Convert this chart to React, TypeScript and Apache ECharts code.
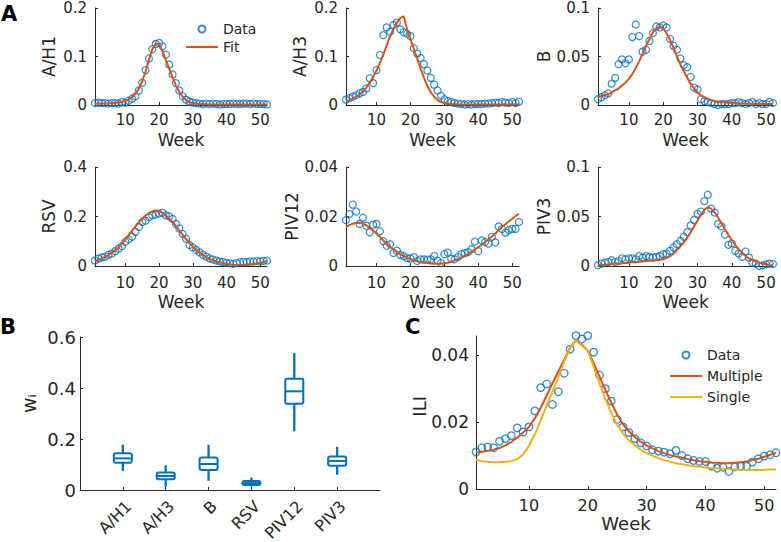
import React, { useEffect, useRef } from "react";
import * as echarts from "echarts";

// ---------- data ----------
const weeks = [1,2,3,4,5,6,7,8,9,10,11,12,13,14,15,16,17,18,19,20,21,22,23,24,25,26,27,28,29,30,31,32,33,34,35,36,37,38,39,40,41,42,43,44,45,46,47,48,49,50,51,52];

const ah1Data = [0.004,0.005,0.004,0.004,0.003,0.004,0.004,0.003,0.006,0.005, 0.009,0.013,0.018,0.030,0.046,0.072,0.096,0.115,0.126,0.128, 0.121,0.104,0.083,0.063,0.045,0.030,0.018,0.011,0.007,0.005, 0.004,0.003,0.002,0.003,0.002,0.003,0.002,0.001,0.002,0.002, 0.002,0.003,0.002,0.002,0.003,0.003,0.002,0.003,0.002,0.002, 0.002,0.001];
const ah1Fit = [0.003,0.003,0.003,0.003,0.003,0.004,0.004,0.005,0.006,0.008, 0.011,0.016,0.023,0.034,0.049,0.069,0.093,0.115,0.126,0.127, 0.111,0.093,0.075,0.057,0.040,0.027,0.017,0.010,0.006,0.004, 0.003,0.002,0.002,0.001,0.001,0.001,0.001,0.001,0.001,0.001, 0.001,0.001,0.001,0.001,0.001,0.001,0.001,0.001,0.001,0.001, 0.001,0.001];

const ah3Data = [0.011,0.014,0.017,0.020,0.024,0.027,0.034,0.055,0.045,0.072, 0.103,0.144,0.160,0.151,0.165,0.170,0.156,0.150,0.147,0.142, 0.117,0.106,0.097,0.084,0.071,0.056,0.042,0.030,0.019,0.012, 0.008,0.006,0.004,0.003,0.002,0.001,0.002,0.001,0.002,0.002, 0.002,0.003,0.003,0.004,0.005,0.004,0.006,0.005,0.004,0.006, 0.004,0.007];
const ah3Fit = [0.008,0.010,0.013,0.017,0.022,0.028,0.036,0.046,0.058,0.071, 0.087,0.104,0.123,0.142,0.157,0.170,0.179,0.183,0.156,0.136, 0.116,0.095,0.075,0.056,0.039,0.026,0.017,0.010,0.006,0.004, 0.003,0.002,0.002,0.001,0.001,0.001,0.001,0.001,0.001,0.001, 0.001,0.001,0.001,0.001,0.001,0.001,0.001,0.001,0.001,0.001, 0.001,0.001];

const bData = [0.006,0.008,0.010,0.012,0.022,0.028,0.042,0.047,0.043,0.047, 0.070,0.083,0.071,0.055,0.057,0.066,0.074,0.081,0.080,0.082, 0.080,0.068,0.061,0.057,0.048,0.041,0.039,0.029,0.018,0.016, 0.006,0.004,0.003,0.002,0.001,0.000,0.001,0.001,0.001,0.002, 0.002,0.003,0.002,0.001,0.002,0.003,0.001,0.002,0.001,0.001, 0.003,0.002];
const bFit = [0.008,0.009,0.010,0.011,0.013,0.015,0.017,0.020,0.023,0.027, 0.032,0.038,0.045,0.053,0.061,0.068,0.075,0.079,0.081,0.079, 0.074,0.067,0.059,0.050,0.042,0.035,0.028,0.022,0.017,0.013, 0.010,0.008,0.006,0.005,0.004,0.0035,0.003,0.0027,0.0024,0.0022, 0.002,0.0018,0.0016,0.0015,0.0014,0.0013,0.0012,0.0011,0.001,0.001, 0.001,0.001];

const rsvData = [0.022,0.030,0.035,0.038,0.045,0.050,0.060,0.070,0.080,0.098, 0.108,0.118,0.138,0.158,0.178,0.183,0.198,0.205,0.208,0.212, 0.215,0.205,0.200,0.190,0.170,0.152,0.130,0.110,0.085,0.075, 0.065,0.055,0.045,0.038,0.031,0.026,0.022,0.018,0.016,0.013, 0.011,0.009,0.012,0.015,0.017,0.016,0.019,0.018,0.020,0.019, 0.021,0.022];
const rsvFit = [0.020,0.025,0.031,0.038,0.045,0.054,0.064,0.075,0.091,0.108, 0.125,0.143,0.160,0.177,0.192,0.204,0.214,0.221,0.224,0.222, 0.215,0.204,0.191,0.177,0.160,0.143,0.126,0.109,0.093,0.078, 0.065,0.054,0.045,0.037,0.029,0.023,0.018,0.015,0.012,0.0095, 0.007,0.0055,0.0045,0.004,0.0042,0.005,0.0062,0.008,0.010,0.013, 0.016,0.020];

const piv12Data = [0.0185,0.021,0.0248,0.022,0.017,0.0195,0.0163,0.0136,0.0167,0.017, 0.014,0.010,0.0082,0.0088,0.0053,0.0062,0.0045,0.004,0.0032,0.003, 0.0036,0.002,0.0027,0.0027,0.0026,0.0027,0.004,0.0022,0.0012,0.0048, 0.0054,0.003,0.0027,0.0036,0.0048,0.0052,0.0056,0.0068,0.0098,0.006, 0.0103,0.0097,0.009,0.0118,0.0095,0.016,0.015,0.0135,0.0145,0.015, 0.015,0.0178];
const piv12Fit = [0.0158,0.0165,0.0171,0.0174,0.0175,0.0171,0.0164,0.0155,0.0144,0.0131, 0.0117,0.0103,0.0090,0.0078,0.0067,0.0057,0.0048,0.0041,0.0034,0.0028, 0.0023,0.0019,0.0016,0.0013,0.0012,0.0010,0.0009,0.0009,0.0009,0.0011, 0.0013,0.0017,0.0022,0.0028,0.0034,0.0041,0.0048,0.0057,0.0067,0.0076, 0.0086,0.0097,0.0108,0.0119,0.0131,0.0144,0.0158,0.0169,0.0180,0.0191, 0.0202,0.0211];

const piv3Data = [0.0007,0.0024,0.0034,0.004,0.0058,0.004,0.005,0.0078,0.0068,0.0078, 0.0078,0.0068,0.010,0.0085,0.010,0.0092,0.0085,0.0092,0.010,0.012, 0.0126,0.0153,0.0187,0.022,0.0255,0.0296,0.034,0.041,0.0466,0.0527, 0.055,0.0656,0.072,0.058,0.054,0.0425,0.040,0.0316,0.0214,0.0228, 0.0153,0.0126,0.0092,0.0146,0.0085,0.0034,0.0024,0.0,0.0007,0.0017, 0.0024,0.002];
const piv3Fit = [0.0007,0.0010,0.0013,0.0016,0.0019,0.0022,0.0025,0.0028,0.0031,0.0034, 0.0037,0.0040,0.0043,0.0046,0.0050,0.0053,0.0056,0.0059,0.0062,0.0068, 0.0082,0.0100,0.0125,0.0160,0.0198,0.0238,0.0285,0.0340,0.0400,0.0460, 0.0515,0.0568,0.0595,0.0580,0.0540,0.0490,0.0430,0.0370,0.0312,0.0260, 0.0212,0.0170,0.0133,0.0100,0.0076,0.0058,0.0045,0.0034,0.0026,0.0017, 0.0011,0.0007];

const boxCats = ["A/H1", "A/H3", "B", "RSV", "PIV12", "PIV3"];
const boxMin = [0.075, 0.013, 0.036, 0.013, 0.230, 0.060];
const boxQ1 = [0.107, 0.042, 0.078, 0.020, 0.338, 0.095];
const boxMedian = [0.124, 0.055, 0.102, 0.027, 0.387, 0.114];
const boxQ3 = [0.144, 0.069, 0.127, 0.035, 0.436, 0.131];
const boxMax = [0.178, 0.097, 0.178, 0.049, 0.537, 0.169];

const iliData = [0.0110,0.0123,0.0125,0.0123,0.0142,0.0150,0.0159,0.0182,0.0170,0.0185, 0.0233,0.0302,0.0313,0.0252,0.0290,0.0345,0.0417,0.0457,0.0447,0.0457, 0.0408,0.0339,0.0299,0.0262,0.0207,0.0185,0.0168,0.0150,0.0138,0.0128, 0.0117,0.0113,0.0110,0.0105,0.0115,0.0100,0.0090,0.0085,0.0082,0.0082, 0.0068,0.0062,0.0065,0.0052,0.0066,0.0068,0.0068,0.0080,0.0090,0.0098, 0.0102,0.0108];
const iliMultiple = [0.0108,0.0111,0.0114,0.0117,0.0122,0.0130,0.0140,0.0153,0.0168,0.0185, 0.0210,0.0242,0.0278,0.0315,0.0350,0.0385,0.0422,0.0443,0.0430,0.0413, 0.0375,0.0335,0.0295,0.0257,0.0222,0.0193,0.0172,0.0155,0.0141,0.0130, 0.0121,0.0113,0.0107,0.0101,0.0097,0.0093,0.0089,0.0086,0.0083,0.0081, 0.0079,0.0078,0.0077,0.0077,0.0078,0.0080,0.0082,0.0086,0.0090,0.0096, 0.0102,0.0108];
const iliSingle = [0.0087,0.0083,0.0081,0.0080,0.0080,0.0081,0.0083,0.0089,0.0103,0.0128, 0.0163,0.0205,0.0248,0.0290,0.0335,0.0380,0.0420,0.0443,0.0428,0.0412, 0.0365,0.0315,0.0268,0.0227,0.0192,0.0165,0.0145,0.0130,0.0117,0.0107, 0.0099,0.0092,0.0086,0.0081,0.0077,0.0074,0.0071,0.0068,0.0066,0.0064, 0.0062,0.0061,0.0060,0.0059,0.0058,0.0058,0.0057,0.0057,0.0057,0.0057, 0.0058,0.0058];

const weekTicks = [10, 20, 30, 40, 50];

// ---------- style ----------
const AX = "#262626";
const BLUE = "#0072BD";
const ORANGE = "#D95319";
const YELLOW = "#EDB120";
const FONT = "DejaVu Sans";

const panels = [
  { name: "A/H1", data: ah1Data, fit: ah1Fit, max: 0.2, interval: 0.1 },
  { name: "A/H3", data: ah3Data, fit: ah3Fit, max: 0.2, interval: 0.1 },
  { name: "B", data: bData, fit: bFit, max: 0.1, interval: 0.05 },
  { name: "RSV", data: rsvData, fit: rsvFit, max: 0.4, interval: 0.2 },
  { name: "PIV12", data: piv12Data, fit: piv12Fit, max: 0.04, interval: 0.02 },
  { name: "PIV3", data: piv3Data, fit: piv3Fit, max: 0.1, interval: 0.05 },
];

const layout = [
  { left: 95, top: 8, width: 172, height: 97, tickMargin: 7, nameGap: 26 },
  { left: 346, top: 8, width: 173, height: 97, tickMargin: 7, nameGap: 26 },
  { left: 598, top: 8, width: 175, height: 97, tickMargin: 7, nameGap: 26 },
  { left: 95, top: 167, width: 172, height: 99, tickMargin: 9, nameGap: 27 },
  { left: 346, top: 167, width: 173, height: 99, tickMargin: 9, nameGap: 27 },
  { left: 598, top: 167, width: 175, height: 99, tickMargin: 9, nameGap: 27 },
];

function baseAxis(fontSize: number) {
  return {
    axisLine: { show: true, onZero: false, lineStyle: { color: AX, width: 1 } },
    axisTick: { show: true, inside: true, length: 3, lineStyle: { color: AX, width: 1 } },
    splitLine: { show: false },
    axisLabel: { color: AX, fontSize, fontFamily: FONT },
    nameTextStyle: { color: AX, fontFamily: FONT },
  };
}

function buildOption() {
  const grid: any[] = [];
  const xAxis: any[] = [];
  const yAxis: any[] = [];
  const series: any[] = [];

  panels.forEach((p, i) => {
    const L = layout[i];
    grid.push({ left: L.left, top: L.top, width: L.width, height: L.height, containLabel: false, outerBoundsMode: "none" });
    const bx = baseAxis(15);
    xAxis.push({
      ...bx,
      type: "value",
      gridIndex: i,
      min: 1,
      max: 52,
      axisTick: { ...bx.axisTick, customValues: weekTicks },
      axisLabel: { ...bx.axisLabel, customValues: weekTicks, margin: L.tickMargin },
      name: "Week",
      nameLocation: "middle",
      nameGap: L.nameGap,
      nameTextStyle: { ...bx.nameTextStyle, fontSize: 17 },
    });
    const by = baseAxis(15);
    yAxis.push({
      ...by,
      type: "value",
      gridIndex: i,
      min: 0,
      max: p.max,
      interval: p.interval,
      axisLabel: { ...by.axisLabel, margin: 8, lineHeight: 14 },
      name: p.name,
      nameLocation: "middle",
      nameGap: 38,
      nameTextStyle: { ...by.nameTextStyle, fontSize: 17 },
    });
    series.push({
      name: "Data",
      type: "scatter",
      xAxisIndex: i,
      yAxisIndex: i,
      symbol: "circle",
      symbolSize: 7,
      clip: false,
      itemStyle: { color: "rgba(255,255,255,0)", borderColor: BLUE, borderWidth: 1.2 },
      data: weeks.map((w, k) => [w, p.data[k]]),
    });
    series.push({
      name: "Fit",
      type: "line",
      xAxisIndex: i,
      yAxisIndex: i,
      symbol: "none",
      showSymbol: false,
      lineStyle: { color: ORANGE, width: 2 },
      itemStyle: { color: ORANGE },
      data: weeks.map((w, k) => [w, p.fit[k]]),
    });
  });

  // Panel B: box plot of weights
  const gB = grid.length;
  grid.push({ left: 80, top: 337, width: 300, height: 153, containLabel: false, outerBoundsMode: "none" });
  const bxB = baseAxis(16);
  xAxis.push({
    ...bxB,
    type: "value",
    gridIndex: gB,
    min: 0,
    max: 7,
    axisTick: { ...bxB.axisTick, customValues: [1, 2, 3, 4, 5, 6] },
    axisLabel: {
      ...bxB.axisLabel,
      customValues: [1, 2, 3, 4, 5, 6],
      rotate: 45,
      margin: 8,
      verticalAlign: "top",
      formatter: (v: number) => boxCats[Math.round(v) - 1] ?? "",
    },
  });
  const byB = baseAxis(18);
  yAxis.push({
    ...byB,
    type: "value",
    gridIndex: gB,
    min: 0,
    max: 0.6,
    interval: 0.2,
    axisLabel: { ...byB.axisLabel, margin: 4 },
  });
  series.push({
    name: "weights",
    type: "custom",
    xAxisIndex: gB,
    yAxisIndex: gB,
    data: boxCats.map((c, k) => [k + 1, boxMin[k], boxQ1[k], boxMedian[k], boxQ3[k], boxMax[k]]),
    renderItem: (params: any, api: any) => {
      const x = api.value(0);
      const lo = api.coord([x, api.value(1)]);
      const q1 = api.coord([x, api.value(2)]);
      const med = api.coord([x, api.value(3)]);
      const q3 = api.coord([x, api.value(4)]);
      const hi = api.coord([x, api.value(5)]);
      const hw = 9;
      const st = { stroke: BLUE, lineWidth: 2, fill: "none" };
      return {
        type: "group",
        children: [
          { type: "line", shape: { x1: lo[0], y1: lo[1], x2: q1[0], y2: q1[1] }, style: { ...st, lineWidth: 2.3 } },
          { type: "line", shape: { x1: q3[0], y1: q3[1], x2: hi[0], y2: hi[1] }, style: { ...st, lineWidth: 2.3 } },
          { type: "rect", shape: { x: q3[0] - hw, y: q3[1], width: hw * 2, height: q1[1] - q3[1], r: 2 }, style: st },
          { type: "line", shape: { x1: med[0] - hw, y1: med[1], x2: med[0] + hw, y2: med[1] }, style: st },
        ],
      };
    },
  });

  // Panel C: ILI
  const gC = grid.length;
  grid.push({ left: 476, top: 336, width: 300, height: 153, containLabel: false, outerBoundsMode: "none" });
  const bxC = baseAxis(16);
  xAxis.push({
    ...bxC,
    type: "value",
    gridIndex: gC,
    min: 1,
    max: 52,
    axisTick: { ...bxC.axisTick, customValues: weekTicks },
    axisLabel: { ...bxC.axisLabel, customValues: weekTicks, margin: 8 },
    name: "Week",
    nameLocation: "middle",
    nameGap: 25,
    nameTextStyle: { ...bxC.nameTextStyle, fontSize: 18 },
  });
  const byC = baseAxis(17);
  yAxis.push({
    ...byC,
    type: "value",
    gridIndex: gC,
    min: 0,
    max: 0.0456,
    axisTick: { ...byC.axisTick, customValues: [0, 0.02, 0.04] },
    axisLabel: { ...byC.axisLabel, customValues: [0, 0.02, 0.04], margin: 7 },
  });
  series.push({
    name: "Data",
    type: "scatter",
    xAxisIndex: gC,
    yAxisIndex: gC,
    symbol: "circle",
    symbolSize: 7.5,
    clip: false,
    itemStyle: { color: "rgba(255,255,255,0)", borderColor: BLUE, borderWidth: 1.3 },
    data: weeks.map((w, k) => [w, iliData[k]]),
  });
  series.push({
    name: "Multiple",
    type: "line",
    xAxisIndex: gC,
    yAxisIndex: gC,
    symbol: "none",
    showSymbol: false,
    lineStyle: { color: ORANGE, width: 2 },
    itemStyle: { color: ORANGE },
    data: weeks.map((w, k) => [w, iliMultiple[k]]),
  });
  series.push({
    name: "Single",
    type: "line",
    xAxisIndex: gC,
    yAxisIndex: gC,
    symbol: "none",
    showSymbol: false,
    lineStyle: { color: YELLOW, width: 2 },
    itemStyle: { color: YELLOW },
    data: weeks.map((w, k) => [w, iliSingle[k]]),
  });

  const legendText = { color: AX, fontSize: 14, fontFamily: FONT };
  const noDot = { opacity: 0 };

  return {
    animation: false,
    textStyle: { fontFamily: FONT },
    grid,
    xAxis,
    yAxis,
    series,
    legend: [
      {
        orient: "vertical",
        left: 185,
        top: 22,
        padding: 0,
        itemWidth: 32,
        itemHeight: 7,
        itemGap: 4,
        selectedMode: false,
        textStyle: legendText,
        data: ["Data", { name: "Fit", itemStyle: noDot }],
      },
      {
        orient: "vertical",
        left: 669,
        top: 348,
        padding: 0,
        itemWidth: 32,
        itemHeight: 7,
        itemGap: 7,
        selectedMode: false,
        textStyle: legendText,
        data: ["Data", { name: "Multiple", itemStyle: noDot }, { name: "Single", itemStyle: noDot }],
      },
    ],
    graphic: [
      { type: "text", left: 1, top: 3, style: { text: "A", fontSize: 21, fontWeight: "bold", fill: "#000", fontFamily: FONT } },
      { type: "text", left: 0, top: 316, style: { text: "B", fontSize: 21, fontWeight: "bold", fill: "#000", fontFamily: FONT } },
      { type: "text", left: 405, top: 316, style: { text: "C", fontSize: 21, fontWeight: "bold", fill: "#000", fontFamily: FONT } },
      // y-axis titles of panels B and C (rotated; placed by their bounding boxes)
      {
        type: "text",
        left: 19,
        top: 394,
        rotation: Math.PI / 2,
        style: { text: "w\u1d62", fontSize: 19, fill: AX, fontFamily: FONT },
      },
      {
        type: "text",
        left: 410,
        top: 396,
        rotation: Math.PI / 2,
        style: { text: "ILI", fontSize: 18, fill: AX, fontFamily: FONT },
      },
    ],
  };
}

export default function App() {
  const ref = useRef<HTMLDivElement>(null);
  useEffect(() => {
    if (!ref.current) return;
    const chart = echarts.init(ref.current, null, { renderer: "svg" });
    chart.setOption(buildOption() as any);
    return () => chart.dispose();
  }, []);
  return (
    <div
      ref={ref}
      style={{ position: "absolute", left: 0, top: 0, width: 781, height: 542, background: "#fff" }}
    />
  );
}
